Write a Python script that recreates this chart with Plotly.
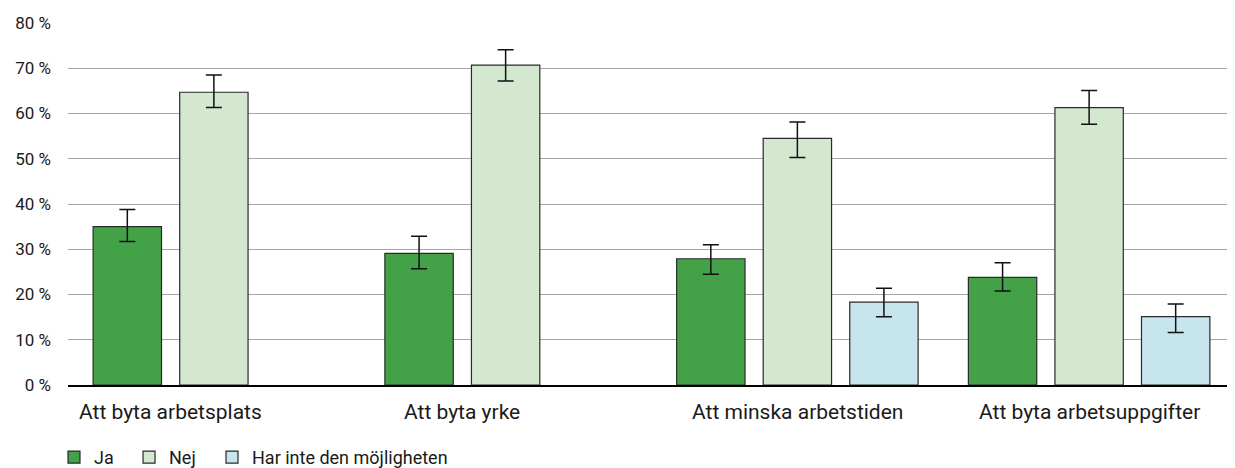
import plotly.graph_objects as go

categories = ["Att byta arbetsplats", "Att byta yrke", "Att minska arbetstiden", "Att byta arbetsuppgifter"]
series_names = ["Ja", "Nej", "Har inte den möjligheten"]
ja = [35.0, 29.1, 27.9, 23.8]
ja_hi = [38.8, 32.9, 31.0, 27.0]
ja_lo = [31.7, 25.7, 24.5, 20.8]
nej = [64.7, 70.7, 54.5, 61.3]
nej_hi = [68.5, 74.1, 58.1, 65.1]
nej_lo = [61.3, 67.2, 50.3, 57.6]
har = [None, None, 18.3, 15.1]
har_hi = [None, None, 21.4, 17.9]
har_lo = [None, None, 15.1, 11.6]
y_ticks = [0, 10, 20, 30, 40, 50, 60, 70, 80]
y_tick_labels = ["0 %", "10 %", "20 %", "30 %", "40 %", "50 %", "60 %", "70 %", "80 %"]

colors = ["#43a148", "#d4e8d0", "#c6e5ee"]
FONT = "Roboto, Arial, sans-serif"
TEXT = "#1a1a1a"


def err(vals, hi, lo):
    plus = [None if v is None else h - v for v, h in zip(vals, hi)]
    minus = [None if v is None else v - l for v, l in zip(vals, lo)]
    return dict(type="data", symmetric=False, array=plus, arrayminus=minus,
                color="#111111", thickness=1.5, width=8)


legend_ids = ["legend", "legend2", "legend3"]
fig = go.Figure()
for name, vals, hi, lo, col, lg in [
    (series_names[0], ja, ja_hi, ja_lo, colors[0], legend_ids[0]),
    (series_names[1], nej, nej_hi, nej_lo, colors[1], legend_ids[1]),
    (series_names[2], har, har_hi, har_lo, colors[2], legend_ids[2]),
]:
    fig.add_trace(go.Bar(
        x=categories, y=vals, name=name, legend=lg,
        marker=dict(color=col, line=dict(color="#2a2a2a", width=1.2)),
        error_y=err(vals, hi, lo),
    ))

bargap = 0.11
slot = (1 - bargap) / 3
annotations = []
for i, (cat, h) in enumerate(zip(categories, har)):
    shift = -slot / 2 if h is None else 0
    annotations.append(dict(
        x=i + shift, y=0, xref="x", yref="paper", text=cat, showarrow=False,
        yanchor="middle", xanchor="center", yshift=-27,
        font=dict(family=FONT, size=21, color=TEXT),
    ))


def legend_box(xpos):
    return dict(orientation="h", x=xpos, xanchor="left", y=-0.2, yanchor="middle",
                font=dict(family=FONT, size=18, color=TEXT),
                bgcolor="rgba(0,0,0,0)", borderwidth=0)


# the page adds an 8px body margin, so the figure is 8px smaller than the window
fig.update_layout(
    width=1227, height=460,
    margin=dict(l=60, r=0, t=15, b=83, autoexpand=False),
    paper_bgcolor="white", plot_bgcolor="white",
    barmode="group", bargap=bargap, bargroupgap=0.21,
    font=dict(family=FONT, size=17, color=TEXT),
    showlegend=True,
    legend=legend_box(-0.012),
    legend2=legend_box(0.0523),
    legend3=legend_box(0.1234),
    annotations=annotations,
)
fig.update_xaxes(type="category", range=[-0.5, 3.5], showticklabels=False,
                 showgrid=False, showline=True, linecolor="#000000", linewidth=1.5,
                 zeroline=False, ticks="")
fig.update_yaxes(range=[0, 80], tickmode="array", tickvals=y_ticks, ticktext=y_tick_labels,
                 showgrid=True, gridcolor="#a6a6a6", gridwidth=1.2,
                 zeroline=False, showline=False, ticks="",
                 ticklabelstandoff=16,
                 tickfont=dict(family=FONT, size=17, color=TEXT))

fig.write_html("out.html")
